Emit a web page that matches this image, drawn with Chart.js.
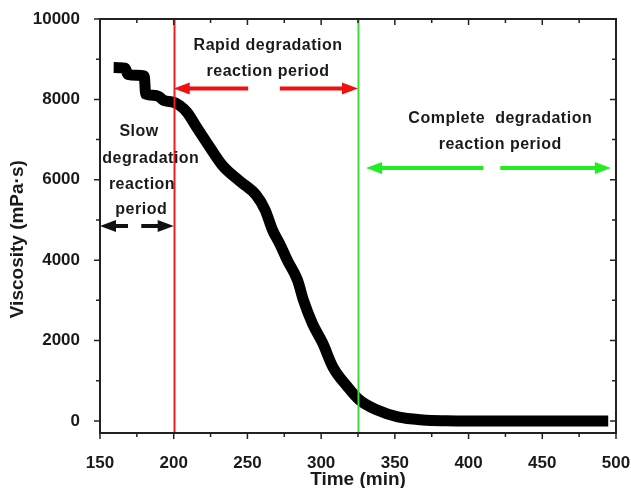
<!DOCTYPE html>
<html>
<head>
<meta charset="utf-8">
<script src="https://cdn.jsdelivr.net/npm/chart.js@4.4.0/dist/chart.umd.min.js"></script>
<style>
  html, body { margin: 0; padding: 0; background: #fff; }
  #wrap { width: 631px; height: 488px; }
</style>
</head>
<body>
<div id="wrap"><canvas id="viscChart"></canvas></div>
<script>
// data
var timeMin = [163, 167, 169, 175, 180, 181, 186, 190, 193, 200, 204, 209, 216, 225, 233, 245, 256, 262,
               267, 272, 277, 284, 288, 294, 301, 308, 318, 326, 338, 352, 369, 385, 400, 430, 460, 491];
var viscosity = [8790, 8780, 8620, 8600, 8580, 8130, 8100, 8070, 7980, 7930, 7850, 7680, 7280, 6780, 6360, 5960, 5615, 5250,
                 4750, 4400, 4000, 3500, 3000, 2430, 1940, 1340, 845, 520, 270, 100, 25, 5, 0, 0, 0, 0];
var xTicks = [150, 200, 250, 300, 350, 400, 450, 500];
var yTicks = [0, 2000, 4000, 6000, 8000, 10000];

var FONT = '"Liberation Sans", Arial, sans-serif';

var points = timeMin.map(function (t, i) { return { x: t, y: viscosity[i] }; });

// period markers and labels (data coordinates)
var marks = {
    lines: [
        { x: 200, color: '#f21d1d' },
        { x: 325, color: '#3fd83f' }
    ],
    arrows: [
        { y: 4850, from: 150, to: 200, gap: [169, 178], color: '#111111' },
        { y: 8270, from: 200, to: 325, gap: [250.5, 272], color: '#f01010' },
        { y: 6290, from: 330.5, to: 496.5, gap: [410, 421.5], color: '#22ec22' }
    ],
    labels: [
        { text: 'Rapid degradation', x: 264, y: 9330 },
        { text: 'reaction period', x: 264, y: 8690 },
        { text: 'Slow', x: 176.5, y: 7190 },
        { text: 'degradation', x: 184.5, y: 6530 },
        { text: 'reaction', x: 178.5, y: 5880 },
        { text: 'period', x: 178, y: 5260 },
        { text: 'Complete  degradation', x: 421.5, y: 7530 },
        { text: 'reaction period', x: 421.5, y: 6880 }
    ]
};

function drawArrow(ctx, x1, x2, y, g1, g2, color) {
    var head = 16, half = 6;
    ctx.save();
    ctx.strokeStyle = color;
    ctx.fillStyle = color;
    ctx.lineWidth = 4;
    ctx.beginPath();
    ctx.moveTo(x1 + head - 2, y); ctx.lineTo(g1, y);
    ctx.moveTo(g2, y); ctx.lineTo(x2 - head + 2, y);
    ctx.stroke();
    ctx.beginPath();
    ctx.moveTo(x1, y); ctx.lineTo(x1 + head, y - half); ctx.lineTo(x1 + head, y + half); ctx.closePath();
    ctx.moveTo(x2, y); ctx.lineTo(x2 - head, y - half); ctx.lineTo(x2 - head, y + half); ctx.closePath();
    ctx.fill();
    ctx.restore();
}

var framePlugin = {
    id: 'frame',
    afterDatasetsDraw: function (chart) {
        var ctx = chart.ctx, xs = chart.scales.x, ys = chart.scales.y, a = chart.chartArea;
        ctx.save();
        // vertical period lines
        marks.lines.forEach(function (l) {
            var px = Math.round(xs.getPixelForValue(l.x)) + 0.5;
            ctx.strokeStyle = l.color;
            ctx.lineWidth = 2;
            ctx.beginPath(); ctx.moveTo(px, a.top); ctx.lineTo(px, a.bottom); ctx.stroke();
        });
        // arrows
        marks.arrows.forEach(function (ar) {
            drawArrow(ctx, xs.getPixelForValue(ar.from), xs.getPixelForValue(ar.to), ys.getPixelForValue(ar.y),
                xs.getPixelForValue(ar.gap[0]), xs.getPixelForValue(ar.gap[1]), ar.color);
        });
        // labels
        ctx.fillStyle = '#1a1a1a';
        ctx.font = 'bold 16px ' + FONT;
        ctx.letterSpacing = '0.5px';
        ctx.textAlign = 'center';
        ctx.textBaseline = 'middle';
        marks.labels.forEach(function (lb) {
            ctx.fillText(lb.text, xs.getPixelForValue(lb.x), ys.getPixelForValue(lb.y));
        });
        ctx.letterSpacing = '0px';
        // box and tick marks
        ctx.strokeStyle = '#222';
        ctx.lineWidth = 2;
        ctx.strokeRect(a.left, a.top, a.right - a.left, a.bottom - a.top);
        ctx.lineWidth = 1.5;
        ctx.beginPath();
        xs.ticks.forEach(function (t) {
            var px = xs.getPixelForValue(t.value);
            var len = t.value % 50 === 0 ? 6 : 4;
            ctx.moveTo(px, a.bottom); ctx.lineTo(px, a.bottom + len);
            ctx.moveTo(px, a.top); ctx.lineTo(px, a.top + len);
        });
        ys.ticks.forEach(function (t) {
            var py = ys.getPixelForValue(t.value);
            var len = t.value % 2000 === 0 ? 6 : 4;
            ctx.moveTo(a.left, py); ctx.lineTo(a.left - len, py);
            ctx.moveTo(a.right, py); ctx.lineTo(a.right - len, py);
        });
        ctx.stroke();
        ctx.restore();
    }
};

new Chart(document.getElementById('viscChart'), {
    type: 'line',
    data: {
        datasets: [{
            data: points,
            borderColor: '#000',
            borderWidth: 11,
            borderCapStyle: 'square',
            borderJoinStyle: 'miter',
            pointRadius: 0,
            cubicInterpolationMode: 'monotone',
            fill: false
        }]
    },
    options: {
        responsive: true,
        maintainAspectRatio: false,
        animation: false,
        layout: { padding: { top: 19, right: 15, left: 0, bottom: 0 } },
        plugins: { legend: { display: false }, tooltip: { enabled: false } },
        scales: {
            x: {
                type: 'linear',
                min: 150, max: 500,
                afterFit: function (s) { s.height = 55; s.paddingLeft = 0; s.paddingRight = 0; },
                afterBuildTicks: function (s) {
                    var t = [];
                    for (var v = 150; v <= 500; v += 25) t.push({ value: v });
                    s.ticks = t;
                },
                grid: { display: false },
                border: { display: false },
                ticks: {
                    autoSkip: false, maxRotation: 0, padding: 12,
                    color: '#1a1a1a',
                    font: { family: FONT, size: 17, weight: 'bold' },
                    callback: function (v) { return xTicks.indexOf(v) >= 0 ? v : ''; }
                },
                title: {
                    display: true, text: 'Time (min)', color: '#1a1a1a',
                    font: { family: FONT, size: 19, weight: 'bold' },
                    padding: { top: 0, bottom: -3 }
                }
            },
            y: {
                min: -300, max: 10000,
                afterFit: function (s) { s.width = 100; s.paddingTop = 0; s.paddingBottom = 0; },
                afterBuildTicks: function (s) {
                    var t = [];
                    for (var v = 0; v <= 10000; v += 1000) t.push({ value: v });
                    s.ticks = t;
                },
                grid: { display: false },
                border: { display: false },
                ticks: {
                    autoSkip: false, padding: 12,
                    color: '#1a1a1a',
                    font: { family: FONT, size: 17, weight: 'bold' },
                    callback: function (v) { return yTicks.indexOf(v) >= 0 ? v : ''; }
                },
                title: {
                    display: true, text: 'Viscosity (mPa\u00b7s)     ', color: '#1a1a1a',
                    font: { family: FONT, size: 19, weight: 'bold' },
                    padding: { top: 6, bottom: 0 }
                }
            }
        }
    },
    plugins: [framePlugin]
});
</script>
</body>
</html>
